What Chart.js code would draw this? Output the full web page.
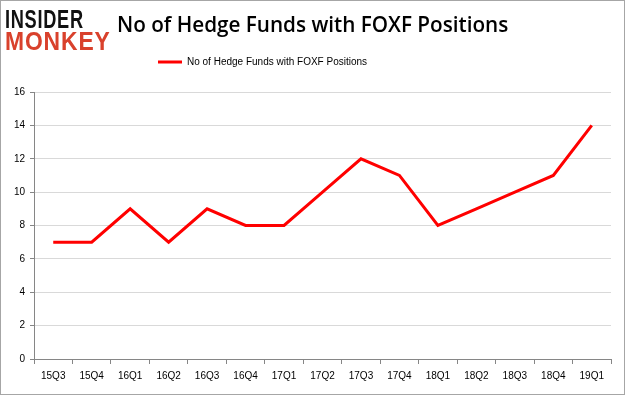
<!DOCTYPE html>
<html><head><meta charset="utf-8">
<script src="https://cdn.jsdelivr.net/npm/chart.js@4"></script>
<style>
html,body{margin:0;padding:0;background:#fff;}
#wrap{position:relative;width:625px;height:395px;overflow:hidden;}
#c{position:absolute;left:0;top:0;}
#frame{position:absolute;left:0;top:0;width:625px;height:395px;box-sizing:border-box;border:1px solid #a6a6a6;pointer-events:none;}
.logo{position:absolute;left:5px;font-family:"Liberation Sans",Arial,sans-serif;font-weight:900;transform-origin:0 0;white-space:nowrap;line-height:1;}
#l1{top:6px;font-size:26px;color:#111;transform:scaleX(0.70);letter-spacing:1px;}
#l2{top:28px;font-size:26px;color:#d9412c;transform:scaleX(0.88);letter-spacing:1px;}
#title{position:absolute;left:117px;top:10px;font-family:"Open Sans","Liberation Sans",sans-serif;font-weight:600;font-size:20.7px;color:#000;white-space:nowrap;}
</style></head>
<body>
<div id="wrap">
<canvas id="c" width="625" height="395"></canvas>
<div class="logo" id="l1">INSIDER</div>
<div class="logo" id="l2">MONKEY</div>
<div id="title">No of Hedge Funds with FOXF Positions</div>
<div id="frame"></div>
</div>
<script>
const quarters = ["15Q3","15Q4","16Q1","16Q2","16Q3","16Q4","17Q1","17Q2","17Q3","17Q4","18Q1","18Q2","18Q3","18Q4","19Q1"];
const hedgeFunds = [7,7,9,7,9,8,8,10,12,11,8,9,10,11,14];
const seriesName = "No of Hedge Funds with FOXF Positions";
const yTicks = [0,2,4,6,8,10,12,14,16];

const font = {family:"'Liberation Sans', Arial, sans-serif", size:10};
const legendTweak = {
  id:'legendTweak',
  afterInit(chart){
    const lg = chart.legend;
    const f = lg.fit.bind(lg);
    lg.fit = function(){ f(); this.height += 15; };
  },
  afterLayout(chart){
    const lg = chart.legend;
    const w = lg.right - lg.left;
    lg.left = 158; lg.right = 158 + w;
  }
};
new Chart(document.getElementById('c'), {
  type:'line',
  data:{labels:quarters, datasets:[{label:seriesName, data:hedgeFunds, borderColor:'#ff0000', backgroundColor:'#ff0000', borderWidth:3, pointRadius:0, tension:0}]},
  plugins:[legendTweak],
  options:{
    responsive:false, animation:false,
    layout:{padding:{left:0,right:14,top:57,bottom:8}},
    plugins:{
      legend:{display:true, position:'top', align:'start',
        labels:{color:'#000', font:font, boxWidth:24, boxHeight:3, padding:0,
          generateLabels:(chart)=>Chart.defaults.plugins.legend.labels.generateLabels(chart).map(i=>Object.assign(i,{lineWidth:0}))}},
      tooltip:{enabled:false}
    },
    scales:{
      x:{offset:true,
        grid:{offset:true, drawOnChartArea:false, tickLength:5, color:'#868686', tickColor:'#868686'},
        border:{color:'#868686'},
        ticks:{color:'#000', font:font, maxRotation:0, autoSkip:false, padding:6},
        afterFit:(s)=>{s.height=28;}
      },
      y:{min:0,max:16,
        afterBuildTicks:(s)=>{s.ticks=yTicks.map(v=>({value:v}));},
        grid:{color:'#d9d9d9', tickLength:4, tickColor:'#868686'},
        border:{color:'#868686'},
        ticks:{color:'#000', font:font, padding:5},
        afterFit:(s)=>{s.width=34;}
      }
    }
  }
});
</script>
</body></html>
